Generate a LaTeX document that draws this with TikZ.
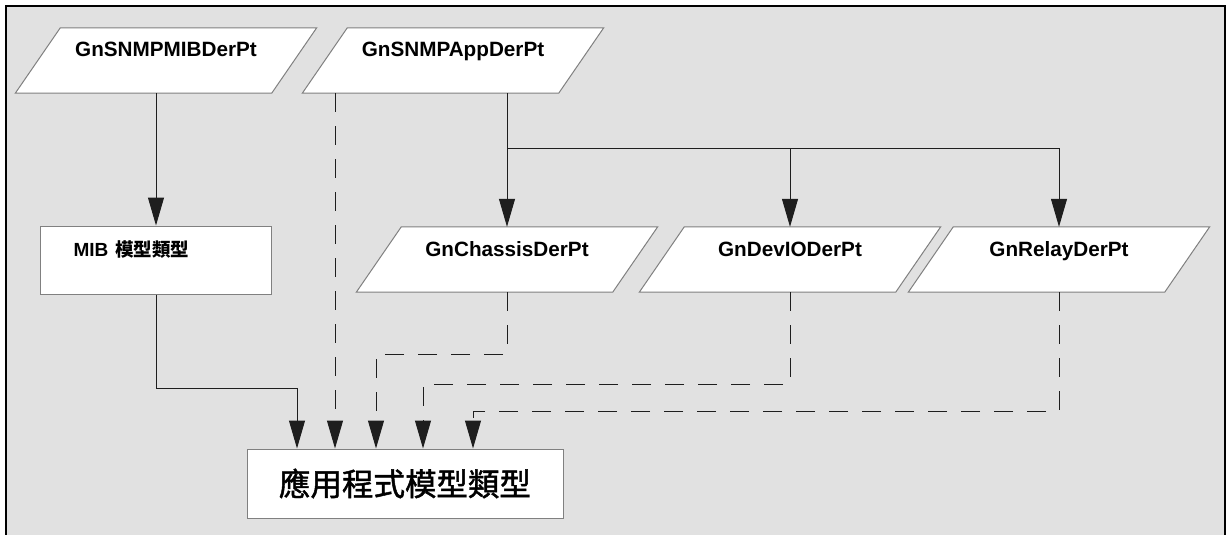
\documentclass[tikz,border=0pt]{standalone}
\usepackage{fontspec}
\setmainfont{Liberation Sans}
\newfontfamily\cjk{Noto Sans CJK TC}
\newfontfamily\cjkmid[FakeBold=1.5]{Noto Sans CJK TC}
\usepackage{tikz}
\usetikzlibrary{arrows.meta,positioning,backgrounds}

\definecolor{panel}{RGB}{225,225,225}
\definecolor{edge}{RGB}{128,128,128}
\definecolor{ink}{RGB}{30,30,30}

\begin{document}
\begin{tikzpicture}[
  x=1pt, y=-1pt,
  dpt/.style={minimum width=256pt, minimum height=65pt, inner sep=0pt, text height=29pt, text depth=36pt, font=\fontsize{20.7}{24}\selectfont\bfseries},
  pgram/.style={draw=edge, line width=1pt, fill=white},
  tbox/.style={draw=edge, line width=1pt, fill=white, inner ysep=0pt},
  lnk/.style={draw=ink, line width=1pt},
  arr/.style={lnk, -{Triangle[length=28pt,width=16pt]}},
  dsh/.style={arr, dash pattern=on 19pt off 14pt}
]
\useasboundingbox (0,0) rectangle (1227,535);

\node[dpt] (snmpmib) at (166,60.5) {GnSNMPMIBDerPt};
\node[dpt] (snmpapp) at (453,60.5) {GnSNMPAppDerPt};
\node[dpt] (chassis) at (507,259.5) {GnChassisDerPt};
\node[dpt] (devio) at (790,259.5) {GnDevIODerPt};
\node[dpt] (relay) at (1059,259.5) {GnRelayDerPt};
\node[tbox, minimum width=231pt, minimum height=68pt, inner xsep=33pt, text width=165pt, align=left, text height=30pt, text depth=38pt] (mib) at (156,260)
  {\fontsize{19}{22}\selectfont\bfseries MIB\hspace{7pt}{\cjk\fontsize{18.5}{22}\selectfont 模型類型}};
\node[tbox, minimum width=316pt, minimum height=69pt, font=\cjkmid\fontsize{31.5}{36}\selectfont] (app) at (405,483.5) {應用程式模型類型};

\begin{scope}[on background layer]
\fill[panel] (6,6) rectangle (1225,540);
\draw[line width=2pt] (6,540) -- (6,6) -- (1225,6) -- (1225,540);
\foreach \n in {snmpmib,snmpapp,chassis,devio,relay}
  \draw[pgram] ([xshift=22.5pt]\n.north west) -- ([xshift=22.5pt]\n.north east) -- ([xshift=-22.5pt]\n.south east) -- ([xshift=-22.5pt]\n.south west) -- cycle;
\end{scope}

\coordinate (fork) at (chassis.north |- 0,148);
\draw[arr] (mib.north |- snmpmib.south) -- (mib.north);
\draw[arr] (snmpapp.south -| chassis.north) -- (chassis.north);
\draw[arr] (fork) -| (devio.north);
\draw[arr] (fork) -| (relay.north);

\draw[arr] (mib.south) -- ++(0,94) -| ([xshift=-108pt]app.north);
\draw[dsh] ([xshift=-118pt]snmpapp.south) -- ([xshift=-70pt]app.north);
\draw[dsh] (chassis.south) -- ++(0,62) -| ([xshift=-29pt]app.north);
\draw[dsh] (devio.south) -- ++(0,92) -| ([xshift=18pt]app.north);
\draw[dsh] (relay.south) -- ++(0,119) -| ([xshift=68pt]app.north);
\end{tikzpicture}
\end{document}
